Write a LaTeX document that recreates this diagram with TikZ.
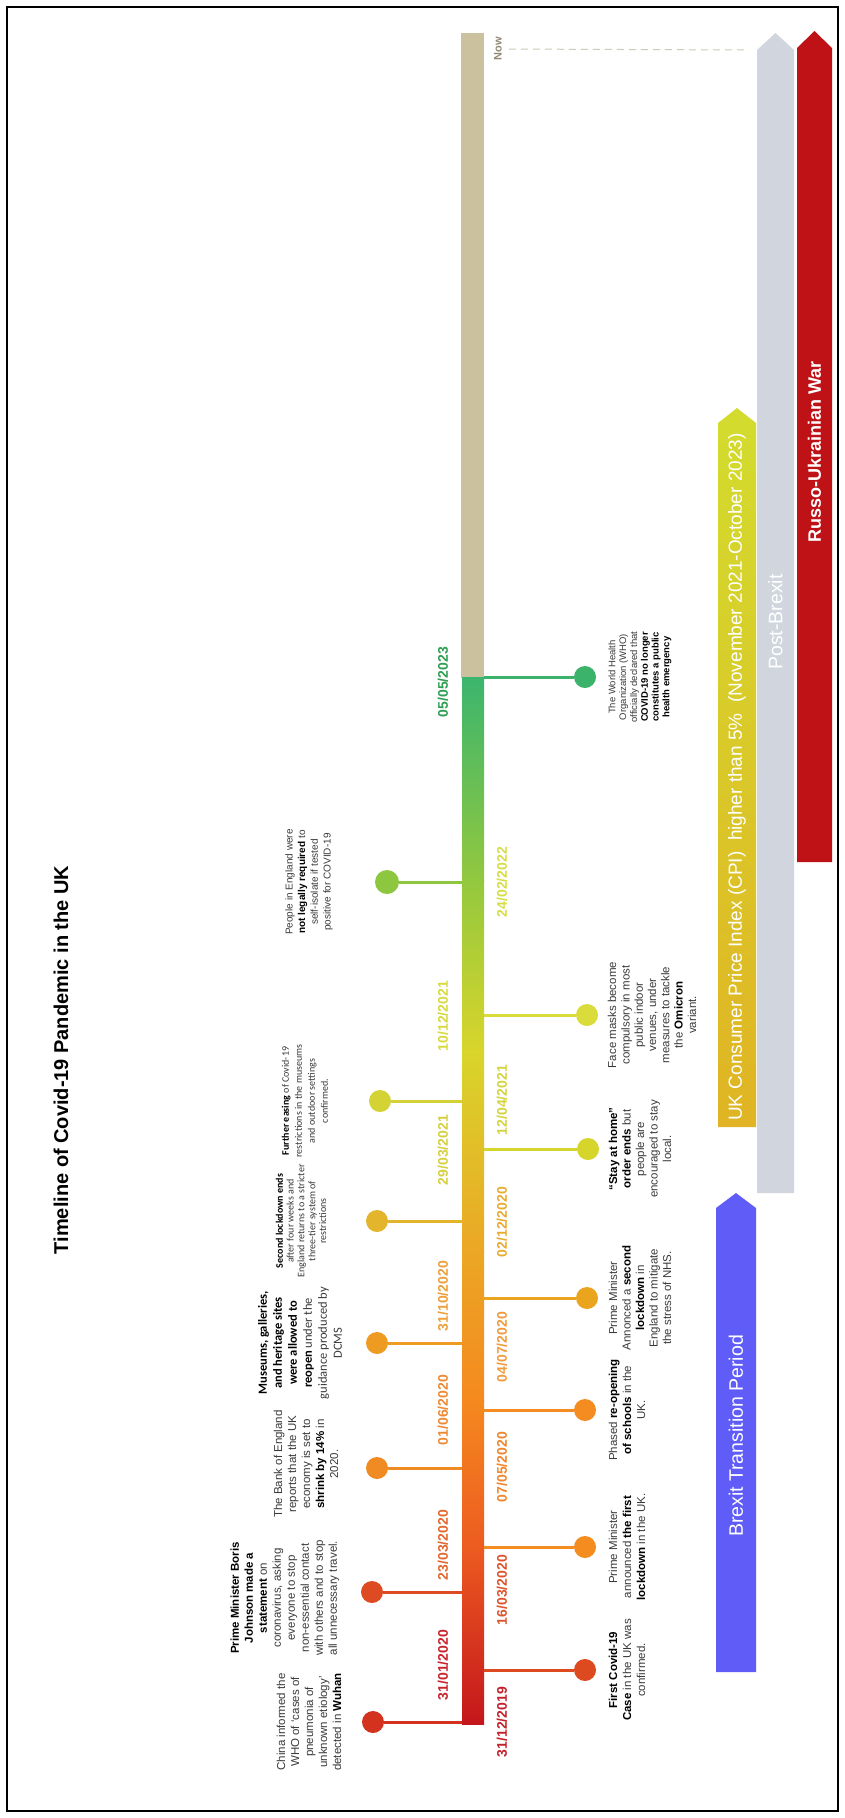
\documentclass[tikz,border=0pt]{standalone}
\usepackage{fontspec}
\setmainfont{Liberation Sans}
\newfontfamily\carl{Carlito}
\definecolor{txtgray}{HTML}{3A3A3A}
\definecolor{tanbar}{HTML}{CBC19F}
\definecolor{g1}{HTML}{C4161C}
\definecolor{g2}{HTML}{EC5A20}
\definecolor{g3}{HTML}{F5891F}
\definecolor{g4}{HTML}{EBA725}
\definecolor{g5}{HTML}{D8D52B}
\definecolor{g6}{HTML}{93C83E}
\definecolor{g7}{HTML}{3BB56D}
\definecolor{blueband}{HTML}{605CF8}
\definecolor{grayband}{HTML}{D1D6DE}
\definecolor{redband}{HTML}{BE1217}
\definecolor{yelbot}{HTML}{E0B424}
\definecolor{yeltop}{HTML}{D3DC2E}
\definecolor{nowcol}{HTML}{8F8872}
\definecolor{dashcol}{HTML}{CFCAB8}
% dot / stem colours
\definecolor{cl1}{HTML}{D2321E}
\definecolor{cl2}{HTML}{DE4A22}
\definecolor{cl3}{HTML}{F08A22}
\definecolor{cl4}{HTML}{EE9B22}
\definecolor{cl5}{HTML}{E3B52C}
\definecolor{cl6}{HTML}{D4D335}
\definecolor{cl7}{HTML}{8DC63F}
\definecolor{cr1}{HTML}{DD4A20}
\definecolor{cr2}{HTML}{F48C20}
\definecolor{cr3}{HTML}{F58C22}
\definecolor{cr4}{HTML}{EAA41E}
\definecolor{cr5}{HTML}{D6D52C}
\definecolor{cr6}{HTML}{D9DC3A}
\definecolor{cr7}{HTML}{3BB36A}
% date colours
\definecolor{ct1}{HTML}{C8242C}
\definecolor{ct2}{HTML}{E3682E}
\definecolor{ct3}{HTML}{EE8A35}
\definecolor{ct4}{HTML}{ECA03C}
\definecolor{ct5}{HTML}{D6D040}
\definecolor{ct6}{HTML}{D6DA3E}
\definecolor{ct7}{HTML}{2E9E52}
\definecolor{cu1}{HTML}{C4212B}
\definecolor{cu2}{HTML}{DD5530}
\definecolor{cu3}{HTML}{F0862E}
\definecolor{cu4}{HTML}{F09B3E}
\definecolor{cu5}{HTML}{E8AC32}
\definecolor{cu6}{HTML}{D4D43C}
\definecolor{cu7}{HTML}{D5DE44}
\begin{document}
\begin{tikzpicture}[x=1pt,y=-1pt,
  every node/.style={inner sep=0pt, outer sep=0pt},
  evtext/.style={rotate=90, align=center, text=txtgray, font=\fontsize{11.5}{14}\selectfont},
  datelbl/.style={rotate=90, font=\fontsize{14}{16}\selectfont\bfseries},
  stemline/.style={line width=3pt},
  dotnode/.style={circle, minimum size=22pt},
  bandtext/.style={rotate=90, text=white, font=\fontsize{19.5}{22}\selectfont},
]
\useasboundingbox (0,0) rectangle (845,1818);
\fill[white] (0,0) rectangle (845,1818);
\draw[line width=2.5pt, black] (7,7) rectangle (838,1811);

% title
\node[rotate=90, font=\fontsize{20}{24}\selectfont\bfseries] (title) at (61,1060) {Timeline of Covid-19 Pandemic in the UK};

% main bar
\fill[tanbar] (461,33) rectangle (484,678);
\shade[top color=g7, bottom color=g6] (462,677) rectangle (484,881);
\shade[top color=g6, bottom color=g5] (462,880) rectangle (484,1051);
\shade[top color=g5, bottom color=g4] (462,1050) rectangle (484,1251);
\shade[top color=g4, bottom color=g3] (462,1250) rectangle (484,1401);
\shade[top color=g3, bottom color=g2] (462,1400) rectangle (484,1551);
\shade[top color=g2, bottom color=g1] (462,1550) rectangle (484,1724);

% Now marker
\node[rotate=90, font=\fontsize{11}{12}\selectfont\bfseries, text=nowcol] (nowlbl) at (498,49) {Now};
\coordinate (nowend) at (748,50);
\draw[dashcol, line width=1pt, dash pattern=on 7pt off 5pt, shorten <=7pt] (nowlbl) -- (nowend);

% bands
\fill[grayband] (757,1193) -- (757,50) -- (775.5,33) -- (794,50) -- (794,1193) -- cycle;
\fill[redband] (797,862) -- (797,48) -- (814.5,31) -- (832,48) -- (832,862) -- cycle;
\shade[top color=yeltop, bottom color=yelbot] (718,1127) -- (718,423) -- (737,408) -- (756,423) -- (756,1127) -- cycle;
\fill[blueband] (716,1672) -- (716,1208) -- (736,1193) -- (756,1208) -- (756,1672) -- cycle;

\node[bandtext] (postbrexit) at (775.5,622) {Post-Brexit};
\node[bandtext, font=\fontsize{18}{22}\selectfont\bfseries] (russo) at (814.5,452) {Russo-Ukrainian War};
\node[bandtext, font=\fontsize{19}{22}\selectfont] (cpi) at (737,777) {UK Consumer Price Index (CPI)\ \ higher than 5\%\ \ (November 2021-October 2023)};
\node[bandtext] (brexit) at (736,1436) {Brexit Transition Period};

% ---------- left events ----------
\coordinate (bl1) at (462,1722);
\coordinate (bl2) at (462,1592);
\coordinate (bl3) at (462,1468);
\coordinate (bl4) at (462,1343);
\coordinate (bl5) at (462,1221);
\coordinate (bl6) at (462,1101);
\coordinate (bl7) at (462,882);
\node[dotnode, fill=cl1] (dl1) at (373,1722) {};
\node[dotnode, fill=cl2] (dl2) at (372,1592) {};
\node[dotnode, fill=cl3] (dl3) at (377,1468) {};
\node[dotnode, fill=cl4] (dl4) at (377,1343) {};
\node[dotnode, fill=cl5] (dl5) at (377,1221) {};
\node[dotnode, fill=cl6] (dl6) at (380,1101) {};
\node[dotnode, fill=cl7, minimum size=24pt] (dl7) at (387,882) {};
\draw[stemline, cl1] (dl1) -- (bl1);
\draw[stemline, cl2] (dl2) -- (bl2);
\draw[stemline, cl3] (dl3) -- (bl3);
\draw[stemline, cl4] (dl4) -- (bl4);
\draw[stemline, cl5] (dl5) -- (bl5);
\draw[stemline, cl6] (dl6) -- (bl6);
\draw[stemline, cl7] (dl7) -- (bl7);

% ---------- right events ----------
\coordinate (br1) at (484,1670);
\coordinate (br2) at (484,1547);
\coordinate (br3) at (484,1410);
\coordinate (br4) at (484,1298);
\coordinate (br5) at (484,1149);
\coordinate (br6) at (484,1015);
\coordinate (br7) at (484,677);
\node[dotnode, fill=cr1] (dr1) at (585,1670) {};
\node[dotnode, fill=cr2] (dr2) at (585,1547) {};
\node[dotnode, fill=cr3] (dr3) at (585,1410) {};
\node[dotnode, fill=cr4] (dr4) at (587,1298) {};
\node[dotnode, fill=cr5] (dr5) at (588,1149) {};
\node[dotnode, fill=cr6] (dr6) at (587,1015) {};
\node[dotnode, fill=cr7] (dr7) at (585,677) {};
\draw[stemline, cr1] (br1) -- (dr1);
\draw[stemline, cr2] (br2) -- (dr2);
\draw[stemline, cr3] (br3) -- (dr3);
\draw[stemline, cr4] (br4) -- (dr4);
\draw[stemline, cr5] (br5) -- (dr5);
\draw[stemline, cr6] (br6) -- (dr6);
\draw[stemline, cr7] (br7) -- (dr7);

% ---------- dates ----------
\node[datelbl, text=ct1] (t1) at (443,1665) {31/01/2020};
\node[datelbl, text=ct2] (t2) at (443,1545) {23/03/2020};
\node[datelbl, text=ct3] (t3) at (443,1410) {01/06/2020};
\node[datelbl, text=ct4] (t4) at (443,1296) {31/10/2020};
\node[datelbl, text=ct5] (t5) at (443,1150) {29/03/2021};
\node[datelbl, text=ct6] (t6) at (443,1016) {10/12/2021};
\node[datelbl, text=ct7] (t7) at (443,682) {05/05/2023};
\node[datelbl, text=cu1] (u1) at (502,1722) {31/12/2019};
\node[datelbl, text=cu2] (u2) at (502,1590) {16/03/2020};
\node[datelbl, text=cu3] (u3) at (502,1467) {07/05/2020};
\node[datelbl, text=cu4] (u4) at (502,1347) {04/07/2020};
\node[datelbl, text=cu5] (u5) at (502,1222) {02/12/2020};
\node[datelbl, text=cu6] (u6) at (502,1100) {12/04/2021};
\node[datelbl, text=cu7] (u7) at (502,882) {24/02/2022};

% ---------- left texts ----------
\node[evtext] (x1) at (309,1722) {China informed the\\WHO of ‘cases of\\pneumonia of\\unknown etiology’\\detected in \textbf{\color{black}Wuhan}};
\node[evtext] (x2) at (285,1598) {\textbf{\color{black}Prime Minister Boris}\\\textbf{\color{black}Johnson made a}\\\textbf{\color{black}statement} on\\coronavirus, asking\\everyone to stop\\non-essential contact\\with others and to stop\\all unnecessary travel.};
\node[evtext] (x3) at (306,1464) {The Bank of England\\reports that the UK\\economy is set to\\\textbf{\color{black}shrink by 14\%} in\\2020.};
\node[evtext, font=\carl\fontsize{12.5}{15}\selectfont] (x4) at (300,1343) {\textbf{\color{black}Museums, galleries,}\\\textbf{\color{black}and heritage sites}\\\textbf{\color{black}were allowed to}\\\textbf{\color{black}reopen} under the\\guidance produced by\\DCMS};
\node[evtext, font=\carl\fontsize{10}{10.8}\selectfont] (x5) at (301,1221) {\textbf{\color{black}Second lockdown ends}\\after four weeks and\\England returns to a stricter\\three-tier system of\\restrictions};
\node[evtext, font=\carl\fontsize{10}{13}\selectfont] (x6) at (305,1101) {\textbf{\color{black}Further easing} of Covid-19\\restrictions in the museums\\and outdoor settings\\confirmed.};
\node[evtext, font=\fontsize{10}{12.7}\selectfont] (x7) at (309,882) {People in England were\\\textbf{\color{black}not legally required} to\\self-isolate if tested\\positive for COVID-19};

% ---------- right texts ----------
\node[evtext] (y1) at (627,1670) {\textbf{\color{black}First Covid-19}\\\textbf{\color{black}Case} in the UK was\\confirmed.};
\node[evtext] (y2) at (627,1547) {Prime Minister\\announced \textbf{\color{black}the first}\\\textbf{\color{black}lockdown} in the UK.};
\node[evtext] (y3) at (627,1410) {Phased \textbf{\color{black}re-opening}\\\textbf{\color{black}of schools} in the\\UK.};
\node[evtext, font=\fontsize{11.5}{13.5}\selectfont] (y4) at (640,1298) {Prime Minister\\Annonced a \textbf{\color{black}second}\\\textbf{\color{black}lockdown} in\\England to mitigate\\the stress of NHS.};
\node[evtext, font=\fontsize{11.5}{13.5}\selectfont] (y5) at (640,1149) {\textbf{\color{black}“Stay at home”}\\\textbf{\color{black}order ends} but\\people are\\encouraged to stay\\local.};
\node[evtext, font=\fontsize{11.5}{13.3}\selectfont] (y6) at (652,1015) {Face masks become\\compulsory in most\\public indoor\\venues, under\\measures to tackle\\the \textbf{\color{black}Omicron}\\variant.};
\node[evtext, font=\fontsize{9.5}{10.8}\selectfont] (y7) at (640,677) {The World Health\\Organization (WHO)\\officially declared that\\\textbf{\color{black}COVID-19 no longer}\\\textbf{\color{black}constitutes a public}\\\textbf{\color{black}health emergency}};
\end{tikzpicture}
\end{document}
